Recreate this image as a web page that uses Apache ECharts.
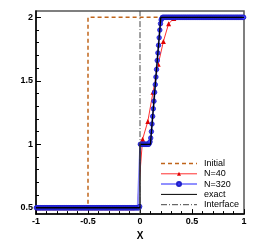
<!DOCTYPE html>
<html><head><meta charset="utf-8">
<script src="https://cdn.jsdelivr.net/npm/echarts@6/dist/echarts.min.js"></script>
<style>html,body{margin:0;padding:0;background:#fff}#c{width:277px;height:246px}</style>
</head><body><div id="c"></div>
<script>
// Initial condition (piecewise)
const initialX = [-1, -0.5, -0.5, 1];
const initialY = [0.5, 0.5, 2, 2];
// Exact solution
const exactX = [-1, 0, 0, 0.1, 0.2, 1];
const exactY = [0.5, 0.5, 1, 1, 2, 2];
// Interface
const interfaceX = [0, 0];
const interfaceY = [0.45, 2.05];
// N=40 cell values (cell centres, dx = 0.05)
const n40 = [
 0.5,0.5,0.5,0.5,0.5,0.5,0.5,0.5,0.5,0.5,
 0.5,0.5,0.5,0.5,0.5,0.5,0.5,0.5,0.5,0.51,
 1.04,1.18,1.41,1.63,1.81,1.95,1.99,2,2,2,
 2,2,2,2,2,2,2,2,2,2
];
// N=320 cell values (cell centres, dx = 0.00625)
const n320 = [
 0.5,0.5,0.5,0.5,0.5,0.5,0.5,0.5,0.5,0.5,0.5,0.5,0.5,0.5,0.5,0.5,0.5,0.5,0.5,0.5,
 0.5,0.5,0.5,0.5,0.5,0.5,0.5,0.5,0.5,0.5,0.5,0.5,0.5,0.5,0.5,0.5,0.5,0.5,0.5,0.5,
 0.5,0.5,0.5,0.5,0.5,0.5,0.5,0.5,0.5,0.5,0.5,0.5,0.5,0.5,0.5,0.5,0.5,0.5,0.5,0.5,
 0.5,0.5,0.5,0.5,0.5,0.5,0.5,0.5,0.5,0.5,0.5,0.5,0.5,0.5,0.5,0.5,0.5,0.5,0.5,0.5,
 0.5,0.5,0.5,0.5,0.5,0.5,0.5,0.5,0.5,0.5,0.5,0.5,0.5,0.5,0.5,0.5,0.5,0.5,0.5,0.5,
 0.5,0.5,0.5,0.5,0.5,0.5,0.5,0.5,0.5,0.5,0.5,0.5,0.5,0.5,0.5,0.5,0.5,0.5,0.5,0.5,
 0.5,0.5,0.5,0.5,0.5,0.5,0.5,0.5,0.5,0.5,0.5,0.5,0.5,0.5,0.5,0.5,0.5,0.5,0.5,0.5,
 0.5,0.5,0.5,0.5,0.5,0.5,0.5,0.5,0.5,0.5,0.5,0.5,0.5,0.5,0.5,0.5,0.5,0.5,0.5,0.51,
 1.0,1.0,1.0,1.0,1.0,1.0,1.0,1.0,1.0,1.0,1.0,1.0,1.0,1.0,1.01,1.02,
 1.05,1.10,1.16,1.22,1.28,1.34,1.41,1.47,1.53,1.59,1.66,1.72,1.78,1.84,1.90,1.95,
 1.98,1.99,2,2,2,2,2,2,2,2,2,2,2,2,2,2,2,2,2,2,2,2,2,2,2,2,2,2,2,2,2,2,
 2,2,2,2,2,2,2,2,2,2,2,2,2,2,2,2,2,2,2,2,2,2,2,2,2,2,2,2,2,2,2,2,
 2,2,2,2,2,2,2,2,2,2,2,2,2,2,2,2,2,2,2,2,2,2,2,2,2,2,2,2,2,2,2,2,
 2,2,2,2,2,2,2,2,2,2,2,2,2,2,2,2,2,2,2,2,2,2,2,2,2,2,2,2,2,2,2,2
];
const xTicks = [-1, -0.5, 0, 0.5, 1];
const yTicks = [0.5, 1, 1.5, 2];
const yMinorTicks = [0.6,0.7,0.8,0.9,1.1,1.2,1.3,1.4,1.6,1.7,1.8,1.9];

const pair = (xs, ys) => xs.map((x, i) => [x, ys[i]]);
const cells = (vals, dx) => vals.map((v, i) => [-1 + (i + 0.5) * dx, v]);

const font = 'Liberation Sans, Arial, sans-serif';
const noSym = {opacity: 0};
const cInit = '#c0641a', cN40 = '#ff3030', cN320 = '#9090ff', cExact = '#000', cIface = '#444';
const chart = echarts.init(document.getElementById('c'), null, {renderer: 'canvas'});
chart.setOption({
  animation: false,
  backgroundColor: '#fff',
  grid: {left: 36, right: 33, top: 11, bottom: 27, show: true, borderColor: '#555', borderWidth: 1.5, backgroundColor: 'transparent'},
  legend: {
    orient: 'vertical', left: 155, top: 154, itemWidth: 36, itemHeight: 5, itemGap: 1.3,
    data: [
      {name: 'Initial', itemStyle: noSym, lineStyle: {width: 1.5, color: cInit, type: [4, 3]}},
      {name: 'N=40', lineStyle: {width: 1, color: cN40}},
      {name: 'N=320', lineStyle: {width: 2, color: cN320}},
      {name: 'exact', itemStyle: noSym, lineStyle: {width: 1, color: cExact}},
      {name: 'Interface', itemStyle: noSym, lineStyle: {width: 1, color: cIface, type: [6, 2, 1, 2]}}
    ],
    textStyle: {fontSize: 9, lineHeight: 9, color: '#000', fontFamily: font, padding: [0, 0, 0, 2]}
  },
  xAxis: {
    type: 'value', min: -1, max: 1, interval: 0.5,
    name: 'X', nameLocation: 'middle', nameGap: 13,
    nameTextStyle: {fontSize: 10, fontWeight: 'bold', color: '#000', fontFamily: font},
    axisLine: {show: true, onZero: false, lineStyle: {color: '#000', width: 1.5}},
    axisTick: {show: true, inside: true, length: 5, lineStyle: {color: '#000'}},
    minorTick: {show: true, splitNumber: 5, length: 3, lineStyle: {color: '#000'}},
    axisLabel: {fontSize: 9, color: '#000', margin: 3, fontFamily: font, fontWeight: 'bold',
      formatter: v => xTicks.includes(v) ? String(v) : ''},
    splitLine: {show: false}
  },
  yAxis: [{
    type: 'value', min: 0.45, max: 2.05,
    axisLine: {show: true, onZero: false, lineStyle: {color: '#000', width: 1.5}},
    axisTick: {show: true, inside: true, length: 5, customValues: yTicks, lineStyle: {color: '#000'}},
    axisLabel: {fontSize: 9, color: '#000', margin: 3, fontFamily: font, fontWeight: 'bold', customValues: yTicks},
    splitLine: {show: false}
  }, {
    type: 'value', min: 0.45, max: 2.05, position: 'left',
    axisLine: {show: false, onZero: false},
    axisTick: {show: true, inside: true, length: 3, customValues: yMinorTicks, lineStyle: {color: '#000'}},
    axisLabel: {show: false},
    splitLine: {show: false}
  }],
  series: [
    {name: 'Initial', type: 'line', data: pair(initialX, initialY), showSymbol: false, symbol: 'none', z: 2,
      itemStyle: {color: cInit}, lineStyle: {color: cInit, width: 1.5, type: [4, 3]}},
    {name: 'N=40', type: 'line', data: cells(n40, 0.05), symbol: 'triangle', symbolSize: 5, z: 3,
      itemStyle: {color: '#e00000'}, lineStyle: {color: cN40, width: 1}},
    {name: 'N=320', type: 'line', data: cells(n320, 0.00625), symbol: 'circle', symbolSize: 4.5, z: 4,
      itemStyle: {color: '#3a3aff', borderColor: '#2020c8', borderWidth: 0.8}, lineStyle: {color: cN320, width: 2}},
    {name: 'exact', type: 'line', data: pair(exactX, exactY), symbol: 'none', z: 5,
      itemStyle: {color: cExact}, lineStyle: {color: cExact, width: 1.3}},
    {name: 'Interface', type: 'line', data: pair(interfaceX, interfaceY), symbol: 'none', z: 6,
      itemStyle: {color: cIface}, lineStyle: {color: cIface, width: 1, type: [6, 2, 1, 2]}}
  ]
});
</script></body></html>
